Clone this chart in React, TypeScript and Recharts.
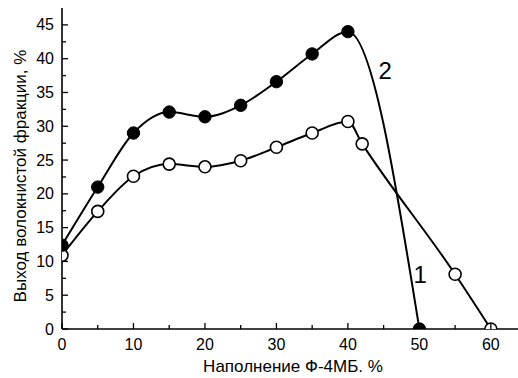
import { ComposedChart, Line, XAxis, YAxis, ReferenceDot } from "recharts";

const FONT = '"Liberation Sans", Arial, sans-serif';

// кривая 2 (закрашенные точки)
const fillX = [0, 5, 10, 15, 20, 25, 30, 35, 40, 50];
const fillY = [12.4, 21.0, 29.0, 32.1, 31.4, 33.1, 36.6, 40.7, 44.0, 0];

// кривая 1 (светлые точки)
const openX = [0, 5, 10, 15, 20, 25, 30, 35, 40, 42, 55, 60];
const openY = [10.9, 17.4, 22.6, 24.4, 24.0, 24.9, 26.9, 29.0, 30.7, 27.4, 8.1, 0];

const xTicks = [0, 5, 10, 15, 20, 25, 30, 35, 40, 45, 50, 55, 60];
const yTicks = [0, 2.5, 5, 7.5, 10, 12.5, 15, 17.5, 20, 22.5, 25, 27.5, 30, 32.5, 35, 37.5, 40, 42.5, 45];

const curve2 = fillX.map((x, i) => ({ x, y: fillY[i] }));
const curve1 = openX.map((x, i) => ({ x, y: openY[i] }));

const XTick = ({ x, y, payload }: any) => {
  const major = payload.value % 10 === 0;
  return (
    <g>
      <line x1={x} x2={x} y1={y} y2={y - (major ? 6 : 4)} stroke="#000" strokeWidth={1.3} />
      {major && (
        <text x={x} y={y + 21} textAnchor="middle" fontSize={16} fontFamily={FONT} fill="#000">
          {payload.value}
        </text>
      )}
    </g>
  );
};

const YTick = ({ x, y, payload }: any) => {
  const major = payload.value % 5 === 0;
  return (
    <g>
      <line x1={x} x2={x + (major ? 6 : 4)} y1={y} y2={y} stroke="#000" strokeWidth={1.3} />
      {major && (
        <text x={x - 8} y={y} dy={5.5} textAnchor="end" fontSize={16} fontFamily={FONT} fill="#000">
          {payload.value}
        </text>
      )}
    </g>
  );
};

const filledDot = (p: any) => (
  <circle key={p.index} cx={p.cx} cy={p.cy} r={6.2} fill="#000" stroke="#000" strokeWidth={1} />
);
const openDot = (p: any) => (
  <circle key={p.index} cx={p.cx} cy={p.cy} r={6} fill="#fff" stroke="#000" strokeWidth={1.6} />
);

export default function App() {
  return (
    <div style={{ position: "absolute", left: 0, top: 0, background: "#fff" }}>
      <ComposedChart width={518} height={378} margin={{ top: 8, right: 0, bottom: 0, left: 0 }}>
        <XAxis
          type="number"
          dataKey="x"
          domain={[0, 63.8]}
          ticks={xTicks}
          interval={0}
          tickSize={0}
          tickMargin={0}
          tickLine={false}
          tick={<XTick />}
          height={49}
          axisLine={{ stroke: "#000", strokeWidth: 1.6 }}
          allowDataOverflow
          label={{
            content: ({ viewBox }: any) => (
              <text
                x={viewBox.x + viewBox.width / 2 + 3}
                y={viewBox.y + 43}
                textAnchor="middle"
                fontSize={17}
                fontFamily={FONT}
                fill="#000"
              >
                Наполнение Ф-4МБ. %
              </text>
            ),
          }}
        />
        <YAxis
          type="number"
          domain={[0, 47.5]}
          ticks={yTicks}
          interval={0}
          tickSize={0}
          tickMargin={0}
          tickLine={false}
          tick={<YTick />}
          width={62}
          axisLine={{ stroke: "#000", strokeWidth: 1.6 }}
          allowDataOverflow
          label={{
            content: () => (
              <text
                x={26}
                y={176}
                transform="rotate(-90 26 176)"
                textAnchor="middle"
                fontSize={17}
                fontFamily={FONT}
                fill="#000"
              >
                Выход волокнистой фракции, %
              </text>
            ),
          }}
        />
        <Line
          data={curve1}
          dataKey="y"
          type="monotone"
          stroke="#000"
          strokeWidth={2}
          dot={openDot}
          activeDot={false}
          isAnimationActive={false}
        />
        <Line
          data={curve2}
          dataKey="y"
          type="monotone"
          stroke="#000"
          strokeWidth={2}
          dot={filledDot}
          activeDot={false}
          isAnimationActive={false}
        />
        <ReferenceDot
          x={45.2}
          y={38.2}
          r={0}
          stroke="none"
          label={{ value: "2", position: "center", fontSize: 24, fontFamily: FONT, fill: "#000" }}
        />
        <ReferenceDot
          x={50.1}
          y={8.1}
          r={0}
          stroke="none"
          label={{ value: "1", position: "center", fontSize: 24, fontFamily: FONT, fill: "#000" }}
        />
      </ComposedChart>
    </div>
  );
}
